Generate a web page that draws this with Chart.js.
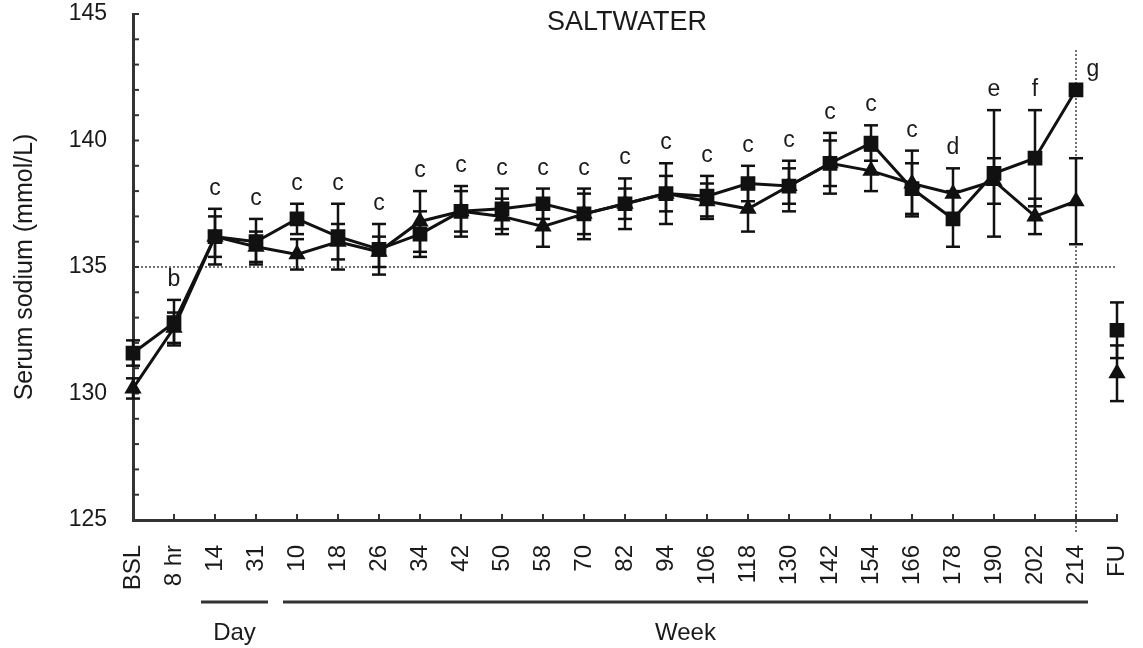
<!DOCTYPE html>
<html>
<head>
<meta charset="utf-8">
<script src="https://cdn.jsdelivr.net/npm/chart.js@4"></script>
<style>
  html, body { margin: 0; padding: 0; background: #fff; }
  #wrap { width: 1143px; height: 648px; }
</style>
</head>
<body>
<div id="wrap"><canvas id="chart"></canvas></div>
<script>
// Time points: baseline, 8 hr, days 14/31, weeks 10..214, follow-up
const timeLabels = ['BSL', '8 hr', '14', '31', '10', '18', '26', '34', '42', '50', '58', '70',
    '82', '94', '106', '118', '130', '142', '154', '166', '178', '190', '202', '214', 'FU'];

// Square series (mean and SEM), BSL..214
const squareMean = [131.6, 132.8, 136.2, 136.0, 136.9, 136.2, 135.7, 136.3, 137.2, 137.3, 137.5, 137.1,
    137.5, 137.9, 137.8, 138.3, 138.2, 139.1, 139.9, 138.1, 136.9, 138.7, 139.3, 142.0];
const squareSem = [0.5, 0.9, 1.1, 0.9, 0.6, 1.3, 1.0, 0.9, 1.0, 0.8, 0.6, 1.0,
    1.0, 1.2, 0.8, 0.7, 1.0, 1.2, 0.7, 1.0, 1.1, 2.5, 1.9, 0];

// Triangle series (mean and SEM), BSL..214
const triangleMean = [130.2, 132.6, 136.2, 135.8, 135.5, 136.0, 135.6, 136.8, 137.2, 137.0, 136.6, 137.1,
    137.5, 137.9, 137.6, 137.3, 138.2, 139.1, 138.8, 138.3, 137.9, 138.4, 137.0, 137.6];
const triangleSem = [0.4, 0.6, 0.8, 0.6, 0.6, 0.7, 0.6, 1.2, 0.8, 0.7, 0.8, 0.8,
    0.6, 0.7, 0.7, 0.9, 0.7, 0.9, 0.8, 1.3, 1.0, 0.9, 0.7, 1.7];

// Follow-up values (not joined to the line)
const fuSquare = 132.5, fuSquareSem = 1.1;
const fuTriangle = 130.8, fuTriangleSem = 1.1;

// Significance letters above each time point
const sigLetters = ['', 'b', 'c', 'c', 'c', 'c', 'c', 'c', 'c', 'c', 'c', 'c',
    'c', 'c', 'c', 'c', 'c', 'c', 'c', 'c', 'd', 'e', 'f', 'g', ''];

const refValue = 135;     // horizontal dotted line
const refIndex = 23;      // vertical dotted line at week 214
const dayRange = [2, 3];
const weekRange = [4, 23];

const ink = '#111';
const textColor = '#1a1a1a';
const fontFamily = "'Liberation Sans', Arial, Helvetica, sans-serif";
const fontSize = 23;

const n = timeLabels.length;
const allSquare = [...squareMean, fuSquare];
const allSquareSem = [...squareSem, fuSquareSem];
const allTriangle = [...triangleMean, fuTriangle];
const allTriangleSem = [...triangleSem, fuTriangleSem];
const onlyLast = v => Array(n - 1).fill(null).concat([v]);

const decorations = {
    id: 'decorations',
    beforeDatasetsDraw(chart) {
        const { ctx, chartArea: a, scales: { x, y } } = chart;
        const seg = (x1, y1, x2, y2) => { ctx.beginPath(); ctx.moveTo(x1, y1); ctx.lineTo(x2, y2); ctx.stroke(); };
        ctx.save();

        // dotted reference lines
        ctx.strokeStyle = '#444';
        ctx.lineWidth = 1.5;
        ctx.setLineDash([2, 2]);
        const yRef = y.getPixelForValue(refValue);
        seg(a.left, yRef, a.right, yRef);
        const xRef = x.getPixelForValue(refIndex);
        seg(xRef, a.top + 36, xRef, a.bottom + 13);
        ctx.setLineDash([]);

        // inward tick marks
        ctx.strokeStyle = '#333';
        ctx.lineWidth = 2;
        y.ticks.forEach(t => {
            const py = y.getPixelForValue(t.value);
            seg(a.left, py, a.left + 6, py);
        });
        for (let i = 1; i < n; i++) {
            const px = x.getPixelForValue(i);
            seg(px, a.bottom, px, a.bottom - 6);
        }

        // error bars
        ctx.strokeStyle = ink;
        ctx.lineWidth = 2.5;
        const bar = (i, m, s) => {
            if (m == null || !s) return;
            const px = x.getPixelForValue(i);
            const hi = y.getPixelForValue(m + s), lo = y.getPixelForValue(m - s);
            seg(px, hi, px, lo);
            seg(px - 7, hi, px + 7, hi);
            seg(px - 7, lo, px + 7, lo);
        };
        for (let i = 0; i < n; i++) {
            bar(i, allSquare[i], allSquareSem[i]);
            bar(i, allTriangle[i], allTriangleSem[i]);
        }
        ctx.restore();
    },
    afterDraw(chart) {
        const { ctx, chartArea: a, scales: { x, y } } = chart;
        ctx.save();
        ctx.fillStyle = textColor;
        ctx.font = `${fontSize}px ${fontFamily}`;
        ctx.textAlign = 'center';

        // significance letters
        ctx.textBaseline = 'alphabetic';
        sigLetters.forEach((l, i) => {
            if (!l) return;
            const top = Math.max(allSquare[i] + allSquareSem[i], allTriangle[i] + allTriangleSem[i]);
            const px = x.getPixelForValue(i) + (i === refIndex ? 17 : 0);
            ctx.fillText(l, px, y.getPixelForValue(top) - 14);
        });

        // panel title
        ctx.textBaseline = 'middle';
        ctx.font = `27px ${fontFamily}`;
        ctx.fillText('SALTWATER', (a.left + a.right) / 2 + 2, a.top + 9);

        // Day / Week brackets
        ctx.font = `24px ${fontFamily}`;
        ctx.strokeStyle = '#333';
        ctx.lineWidth = 3;
        const bracket = (r, label) => {
            const x1 = x.getPixelForValue(r[0]) - 14, x2 = x.getPixelForValue(r[1]) + 12;
            ctx.beginPath(); ctx.moveTo(x1, a.bottom + 82); ctx.lineTo(x2, a.bottom + 82); ctx.stroke();
            ctx.fillText(label, (x1 + x2) / 2, a.bottom + 113);
        };
        bracket(dayRange, 'Day');
        bracket(weekRange, 'Week');
        ctx.restore();
    }
};

const pointBase = {
    borderColor: ink,
    backgroundColor: ink,
    pointBackgroundColor: ink,
    pointBorderColor: ink,
    pointBorderWidth: 2,
    borderWidth: 3,
    tension: 0,
    spanGaps: false
};

new Chart(document.getElementById('chart'), {
    type: 'line',
    data: {
        labels: timeLabels,
        datasets: [
            { ...pointBase, label: 'Square', data: [...squareMean, null], pointStyle: 'rect', pointRadius: 9 },
            { ...pointBase, label: 'Triangle', data: [...triangleMean, null], pointStyle: 'triangle', pointRadius: 8 },
            { ...pointBase, label: 'Square FU', data: onlyLast(fuSquare), pointStyle: 'rect', pointRadius: 9, showLine: false },
            { ...pointBase, label: 'Triangle FU', data: onlyLast(fuTriangle), pointStyle: 'triangle', pointRadius: 8, showLine: false }
        ]
    },
    options: {
        responsive: true,
        maintainAspectRatio: false,
        animation: false,
        layout: { padding: { top: 14, right: 26, bottom: 0, left: 0 } },
        plugins: { legend: { display: false }, tooltip: { enabled: false } },
        scales: {
            x: {
                offset: false,
                grid: { display: false, drawTicks: false },
                border: { display: true, color: '#333', width: 3 },
                ticks: {
                    color: textColor,
                    font: { family: fontFamily, size: 24 },
                    autoSkip: false,
                    maxRotation: 90,
                    minRotation: 90,
                    padding: 25
                },
                afterFit: s => { s.height = 128; s.paddingLeft = 0; s.paddingRight = 0; }
            },
            y: {
                min: 125,
                max: 145,
                grid: { display: false, drawTicks: false },
                border: { display: true, color: '#333', width: 3 },
                ticks: {
                    stepSize: 1,
                    autoSkip: false,
                    color: textColor,
                    font: { family: fontFamily, size: fontSize },
                    padding: 26,
                    callback: v => (v % 5 === 0 ? v : '')
                },
                title: {
                    display: true,
                    text: 'Serum sodium (mmol/L)',
                    color: textColor,
                    font: { family: fontFamily, size: 25 },
                    padding: { top: 10, bottom: 0 }
                },
                afterFit: s => { s.width = 133; s.paddingTop = 0; s.paddingBottom = 0; }
            }
        }
    },
    plugins: [decorations]
});
</script>
</body>
</html>
